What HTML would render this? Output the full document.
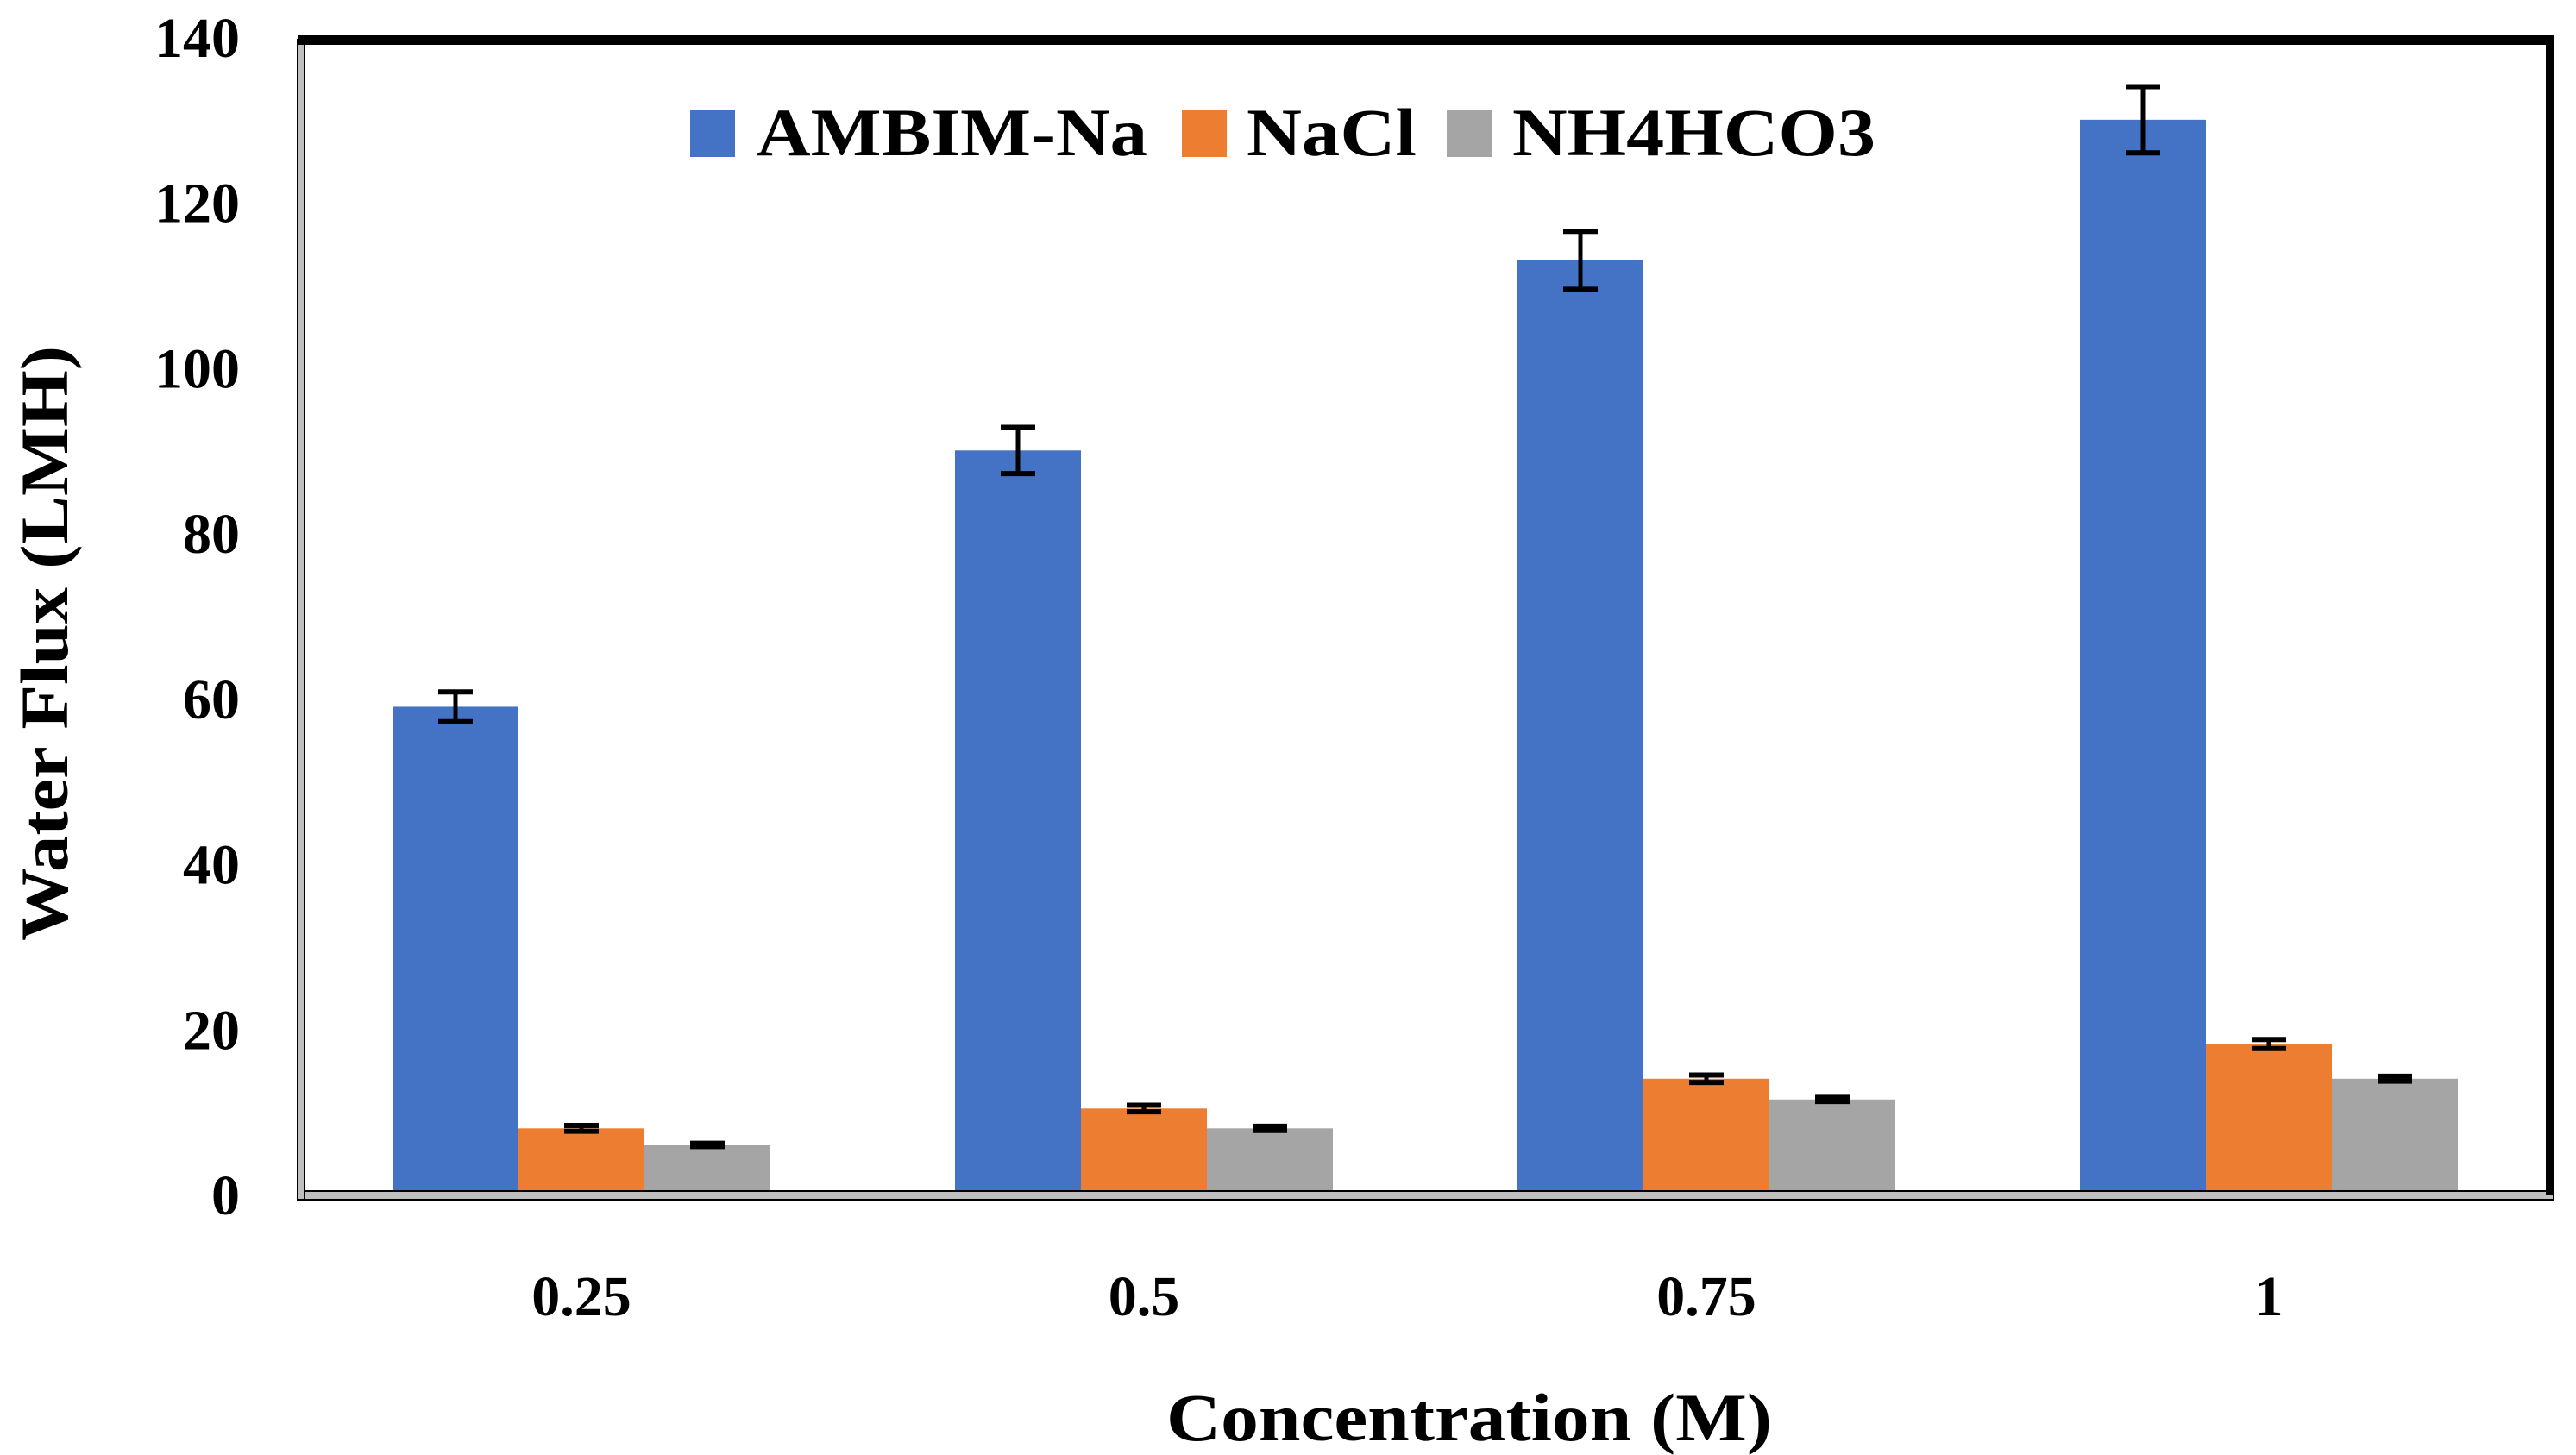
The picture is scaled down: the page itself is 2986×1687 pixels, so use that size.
<!DOCTYPE html>
<html><head><meta charset="utf-8"><style>
html,body{margin:0;padding:0;background:#fff}
svg{display:block}
text{font-family:"Liberation Serif",serif;font-weight:bold;fill:#000}
</style></head><body>
<svg id="chart" width="2986" height="1687" viewBox="0 0 2986 1687" xmlns="http://www.w3.org/2000/svg">
<g id="bars"></g>
<g id="errs"></g>
<g id="frame">
<rect x="346" y="1381" width="2614" height="10" fill="#bfbfbf" stroke="#000" stroke-width="2"/>
<rect x="345" y="46" width="8" height="1345" fill="#bfbfbf" stroke="#000" stroke-width="2"/>
<rect x="346" y="41" width="2615" height="11" fill="#000"/>
<rect x="2951" y="41" width="10" height="1345" fill="#000"/>
</g>
<g id="yticks"></g>
<g id="xticks"></g>
<g id="legend">
<rect x="800" y="127" width="52" height="55" fill="#4472c4"/>
<text x="877" y="180" font-size="78" textLength="453" lengthAdjust="spacingAndGlyphs">AMBIM-Na</text>
<rect x="1370" y="127" width="52" height="55" fill="#ed7d31"/>
<text x="1445" y="180" font-size="78" textLength="197" lengthAdjust="spacingAndGlyphs">NaCl</text>
<rect x="1677" y="127" width="52" height="55" fill="#a5a5a5"/>
<text x="1753" y="180" font-size="78" textLength="421" lengthAdjust="spacingAndGlyphs">NH4HCO3</text>
</g>
<text x="1703" y="1670" font-size="78" text-anchor="middle" textLength="702" lengthAdjust="spacingAndGlyphs">Concentration (M)</text>
<text transform="translate(78,746) rotate(-90)" font-size="78" text-anchor="middle" textLength="690" lengthAdjust="spacingAndGlyphs">Water Flux (LMH)</text>
</svg>
<script>
const categories = ["0.25","0.5","0.75","1"];
const seriesNames = ["AMBIM-Na","NaCl","NH4HCO3"];
const ambim = [59, 90, 113, 130];
const nacl = [8, 10.4, 14, 18.2];
const nh4 = [6, 8, 11.5, 14];
const ambimErr = [1.8, 2.8, 3.5, 4];
const naclErr = [0.35, 0.4, 0.45, 0.55];
const nh4Err = [0.2, 0.25, 0.25, 0.3];
const yTicks = [0,20,40,60,80,100,120,140];

const NS="http://www.w3.org/2000/svg";
const plotL=348, plotR=2956, y0=1385, yTop=43, yMax=140;
const catW=(plotR-plotL)/categories.length, barW=146;
const colors=["#4472c4","#ed7d31","#a5a5a5"];
const series=[ambim,nacl,nh4], errs=[ambimErr,naclErr,nh4Err];
function yScale(v){return y0-(v/yMax)*(y0-yTop);}
function xCenter(i){return plotL+catW*(i+0.5);}
function mk(tag,attrs,parent){const e=document.createElementNS(NS,tag);for(const k in attrs)e.setAttribute(k,attrs[k]);parent.appendChild(e);return e;}
const gb=document.getElementById('bars'), ge=document.getElementById('errs');
const gy=document.getElementById('yticks'), gx=document.getElementById('xticks');
categories.forEach((c,i)=>{
  series.forEach((s,j)=>{
    const x=xCenter(i)-1.5*barW+j*barW, y=yScale(s[i]);
    const r=mk('rect',{x:x,y:y,width:barW,height:y0-y,fill:colors[j]},gb);
    
    
    const cx=x+barW/2, hi=yScale(s[i]+errs[j][i]), lo=yScale(s[i]-errs[j][i]);
    const g=mk('g',{},ge);
    
    
    mk('line',{x1:cx,x2:cx,y1:hi,y2:lo,stroke:'#000','stroke-width':5},g);
    mk('line',{x1:cx-20,x2:cx+20,y1:hi,y2:hi,stroke:'#000','stroke-width':6},g);
    mk('line',{x1:cx-20,x2:cx+20,y1:lo,y2:lo,stroke:'#000','stroke-width':6},g);
  });
  const t=mk('text',{x:xCenter(i),y:1525,'font-size':66,'text-anchor':'middle'},gx);
  t.textContent=c;
  
  
});
yTicks.forEach(v=>{
  const t=mk('text',{x:278,y:yScale(v)+23,'font-size':66,'text-anchor':'end'},gy);
  t.textContent=v;
  
  
});
</script>
</body></html>
